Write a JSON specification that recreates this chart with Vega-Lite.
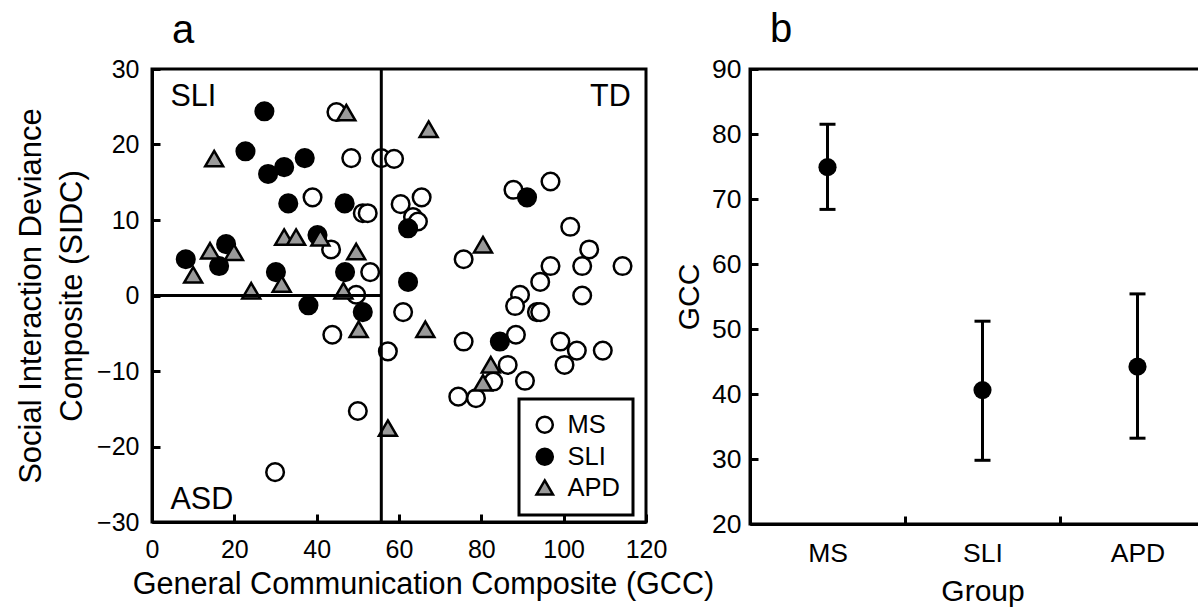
{
  "$schema": "https://vega.github.io/schema/vega-lite/v6.json",
  "background": "white",
  "padding": {"left": 14, "top": 8, "right": 0, "bottom": 0},
  "spacing": -43,
  "config": {
    "font": "Liberation Sans",
    "view": {"stroke": "black", "strokeWidth": 3},
    "axis": {
      "domainColor": "black", "domainWidth": 3, "tickColor": "black", "tickWidth": 3, "tickSize": -8,
      "labelColor": "black", "titleColor": "black", "titleFontWeight": "normal", "grid": false,
      "labelFont": "Liberation Sans", "titleFont": "Liberation Sans", "labelFlush": false, "labelOverlap": false
    },
    "legend": {
      "strokeColor": "black", "strokeWidth": 3, "padding": 13, "fillColor": "white",
      "symbolStrokeColor": "black", "symbolStrokeWidth": 2.5, "symbolSize": 260,
      "labelFontSize": 25.5, "labelColor": "black", "labelOffset": 10, "rowPadding": 4
    },
    "title": {"fontWeight": "normal", "color": "black", "font": "Liberation Sans"}
  },
  "hconcat": [
    {
      "width": 494,
      "height": 453,
      "title": {"text": "a", "anchor": "start", "fontSize": 40, "frame": "group", "dx": 20, "offset": 6},
      "layer": [
        {
          "data": {"values": [
            {"group": "MS", "gcc": 44.8, "sidc": 24.3},
            {"group": "MS", "gcc": 48.4, "sidc": 18.2},
            {"group": "MS", "gcc": 55.7, "sidc": 18.2},
            {"group": "MS", "gcc": 58.8, "sidc": 18.1},
            {"group": "MS", "gcc": 39.0, "sidc": 13.0},
            {"group": "MS", "gcc": 51.2, "sidc": 10.9},
            {"group": "MS", "gcc": 52.4, "sidc": 10.9},
            {"group": "MS", "gcc": 43.5, "sidc": 6.1},
            {"group": "MS", "gcc": 53.0, "sidc": 3.1},
            {"group": "MS", "gcc": 49.6, "sidc": 0.1},
            {"group": "MS", "gcc": 43.8, "sidc": -5.2},
            {"group": "MS", "gcc": 57.3, "sidc": -7.4},
            {"group": "MS", "gcc": 60.4, "sidc": 12.1},
            {"group": "MS", "gcc": 65.5, "sidc": 13.0},
            {"group": "MS", "gcc": 63.4, "sidc": 10.4},
            {"group": "MS", "gcc": 64.6, "sidc": 9.8},
            {"group": "MS", "gcc": 87.8, "sidc": 14.0},
            {"group": "MS", "gcc": 96.8, "sidc": 15.1},
            {"group": "MS", "gcc": 101.6, "sidc": 9.1},
            {"group": "MS", "gcc": 75.7, "sidc": 4.8},
            {"group": "MS", "gcc": 106.2, "sidc": 6.1},
            {"group": "MS", "gcc": 96.8, "sidc": 3.9},
            {"group": "MS", "gcc": 104.5, "sidc": 3.9},
            {"group": "MS", "gcc": 114.3, "sidc": 3.9},
            {"group": "MS", "gcc": 94.3, "sidc": 1.8},
            {"group": "MS", "gcc": 104.5, "sidc": 0.0},
            {"group": "MS", "gcc": 89.4, "sidc": 0.1},
            {"group": "MS", "gcc": 88.2, "sidc": -1.4},
            {"group": "MS", "gcc": 93.5, "sidc": -2.2},
            {"group": "MS", "gcc": 94.3, "sidc": -2.2},
            {"group": "MS", "gcc": 61.0, "sidc": -2.2},
            {"group": "MS", "gcc": 75.7, "sidc": -6.1},
            {"group": "MS", "gcc": 88.4, "sidc": -5.2},
            {"group": "MS", "gcc": 99.2, "sidc": -6.1},
            {"group": "MS", "gcc": 103.2, "sidc": -7.3},
            {"group": "MS", "gcc": 109.5, "sidc": -7.3},
            {"group": "MS", "gcc": 100.2, "sidc": -9.2},
            {"group": "MS", "gcc": 86.4, "sidc": -9.2},
            {"group": "MS", "gcc": 90.6, "sidc": -11.3},
            {"group": "MS", "gcc": 82.9, "sidc": -11.4},
            {"group": "MS", "gcc": 74.4, "sidc": -13.4},
            {"group": "MS", "gcc": 78.7, "sidc": -13.6},
            {"group": "MS", "gcc": 50.0, "sidc": -15.3},
            {"group": "MS", "gcc": 29.9, "sidc": -23.4},
            {"group": "SLI", "gcc": 27.3, "sidc": 24.4},
            {"group": "SLI", "gcc": 22.7, "sidc": 19.1},
            {"group": "SLI", "gcc": 28.2, "sidc": 16.1},
            {"group": "SLI", "gcc": 32.1, "sidc": 17.0},
            {"group": "SLI", "gcc": 37.1, "sidc": 18.2},
            {"group": "SLI", "gcc": 33.1, "sidc": 12.2},
            {"group": "SLI", "gcc": 46.8, "sidc": 12.2},
            {"group": "SLI", "gcc": 8.2, "sidc": 4.8},
            {"group": "SLI", "gcc": 18.0, "sidc": 6.8},
            {"group": "SLI", "gcc": 16.3, "sidc": 3.9},
            {"group": "SLI", "gcc": 40.2, "sidc": 8.0},
            {"group": "SLI", "gcc": 30.1, "sidc": 3.1},
            {"group": "SLI", "gcc": 46.9, "sidc": 3.1},
            {"group": "SLI", "gcc": 38.0, "sidc": -1.3},
            {"group": "SLI", "gcc": 51.2, "sidc": -2.2},
            {"group": "SLI", "gcc": 62.2, "sidc": 8.9},
            {"group": "SLI", "gcc": 62.2, "sidc": 1.8},
            {"group": "SLI", "gcc": 91.1, "sidc": 13.0},
            {"group": "SLI", "gcc": 84.5, "sidc": -6.1},
            {"group": "APD", "gcc": 47.2, "sidc": 24.2},
            {"group": "APD", "gcc": 15.1, "sidc": 18.1},
            {"group": "APD", "gcc": 10.0, "sidc": 2.7},
            {"group": "APD", "gcc": 14.1, "sidc": 5.9},
            {"group": "APD", "gcc": 19.9, "sidc": 5.7},
            {"group": "APD", "gcc": 24.1, "sidc": 0.6},
            {"group": "APD", "gcc": 32.1, "sidc": 7.7},
            {"group": "APD", "gcc": 35.0, "sidc": 7.7},
            {"group": "APD", "gcc": 40.9, "sidc": 7.6},
            {"group": "APD", "gcc": 49.6, "sidc": 5.8},
            {"group": "APD", "gcc": 31.5, "sidc": 1.5},
            {"group": "APD", "gcc": 46.5, "sidc": 0.6},
            {"group": "APD", "gcc": 50.2, "sidc": -4.5},
            {"group": "APD", "gcc": 67.2, "sidc": 22.0},
            {"group": "APD", "gcc": 80.4, "sidc": 6.7},
            {"group": "APD", "gcc": 66.4, "sidc": -4.5},
            {"group": "APD", "gcc": 82.3, "sidc": -9.2},
            {"group": "APD", "gcc": 80.4, "sidc": -11.6},
            {"group": "APD", "gcc": 57.3, "sidc": -17.6}
          ]},
          "mark": {"type": "point", "filled": true, "size": 310, "strokeWidth": 2.5, "opacity": 1},
          "encoding": {
            "x": {"field": "gcc", "type": "quantitative",
              "scale": {"domain": [0, 120], "nice": false, "zero": false},
              "axis": {"title": "General Communication Composite (GCC)", "values": [0, 20, 40, 60, 80, 100, 120],
                "labelFontSize": 25, "titleFontSize": 30.6, "labelPadding": 23, "titlePadding": 7, "titleX": 271, "labelFlush": false}},
            "y": {"field": "sidc", "type": "quantitative",
              "scale": {"domain": [-30, 30], "nice": false, "zero": false},
              "axis": {"title": ["Social Interaction Deviance", "Composite (SIDC)"], "values": [-30, -20, -10, 0, 10, 20, 30],
                "labelFontSize": 25, "titleFontSize": 31, "titleLineHeight": 41, "labelPadding": 21, "titlePadding": 8}},
            "fill": {"field": "group", "type": "nominal",
              "scale": {"domain": ["MS", "SLI", "APD"], "range": ["white", "black", "#9a9a9a"]},
              "legend": {"title": null, "orient": "none", "legendX": 367, "legendY": 330, "labelExpr": "datum.label + '  '"}},
            "stroke": {"field": "group", "type": "nominal",
              "scale": {"domain": ["MS", "SLI", "APD"], "range": ["black", "black", "black"]},
              "legend": {"title": null, "orient": "none", "legendX": 367, "legendY": 330, "labelExpr": "datum.label + '  '"}},
            "shape": {"field": "group", "type": "nominal",
              "scale": {"domain": ["MS", "SLI", "APD"], "range": ["circle", "circle", "M0,-0.9L1.02,0.85L-1.02,0.85Z"]},
              "legend": {"title": null, "orient": "none", "legendX": 367, "legendY": 330, "labelExpr": "datum.label + '  '"}}
          }
        },
        {
          "data": {"values": [{"gcc": 55.7, "sidc": -30, "sidc2": 30}]},
          "mark": {"type": "rule", "strokeWidth": 3, "color": "black"},
          "encoding": {
            "x": {"field": "gcc", "type": "quantitative"},
            "y": {"field": "sidc", "type": "quantitative"},
            "y2": {"field": "sidc2"}
          }
        },
        {
          "data": {"values": [{"gcc": 0, "gcc2": 55.7, "sidc": 0}]},
          "mark": {"type": "rule", "strokeWidth": 3, "color": "black"},
          "encoding": {
            "x": {"field": "gcc", "type": "quantitative"},
            "x2": {"field": "gcc2"},
            "y": {"field": "sidc", "type": "quantitative"}
          }
        },
        {
          "data": {"values": [
            {"label": "SLI", "gcc": 4.5, "sidc": 25.1, "side": "left"},
            {"label": "ASD", "gcc": 4.5, "sidc": -28.3, "side": "left"},
            {"label": "TD", "gcc": 116.3, "sidc": 25.1, "side": "right"}
          ]},
          "transform": [{"filter": "datum.side === 'left'"}],
          "mark": {"type": "text", "align": "left", "baseline": "alphabetic", "fontSize": 30.5, "color": "black"},
          "encoding": {
            "x": {"field": "gcc", "type": "quantitative"},
            "y": {"field": "sidc", "type": "quantitative"},
            "text": {"field": "label"}
          }
        },
        {
          "data": {"values": [
            {"label": "SLI", "gcc": 4.5, "sidc": 25.1, "side": "left"},
            {"label": "ASD", "gcc": 4.5, "sidc": -28.3, "side": "left"},
            {"label": "TD", "gcc": 116.3, "sidc": 25.1, "side": "right"}
          ]},
          "transform": [{"filter": "datum.side === 'right'"}],
          "mark": {"type": "text", "align": "right", "baseline": "alphabetic", "fontSize": 30.5, "color": "black"},
          "encoding": {
            "x": {"field": "gcc", "type": "quantitative"},
            "y": {"field": "sidc", "type": "quantitative"},
            "text": {"field": "label"}
          }
        }
      ]
    },
    {
      "width": 465,
      "height": 455,
      "title": {"text": "b", "anchor": "start", "fontSize": 40, "frame": "group", "dx": 20, "offset": 6},
      "data": {"values": [
        {"group": "MS", "mean": 74.9, "lo": 68.4, "hi": 81.5},
        {"group": "SLI", "mean": 40.6, "lo": 29.8, "hi": 51.2},
        {"group": "APD", "mean": 44.2, "lo": 33.2, "hi": 55.4}
      ]},
      "encoding": {
        "x": {"field": "group", "type": "nominal", "sort": ["MS", "SLI", "APD"],
          "scale": {"type": "band", "paddingInner": 0, "paddingOuter": 0},
          "axis": {"title": "Group", "labelAngle": 0, "tickBand": "extent", "labelFontSize": 26.5, "titleFontSize": 30, "labelPadding": 24, "titlePadding": 10}}
      },
      "layer": [
        {
          "mark": {"type": "rule", "strokeWidth": 3, "color": "black"},
          "encoding": {
            "y": {"field": "lo", "type": "quantitative",
              "scale": {"domain": [20, 90], "nice": false, "zero": false},
              "axis": {"title": "GCC", "values": [20, 30, 40, 50, 60, 70, 80, 90], "labelFontSize": 26.5, "titleFontSize": 30, "labelPadding": 17, "titlePadding": 7}},
            "y2": {"field": "hi"}
          }
        },
        {
          "mark": {"type": "tick", "size": 16, "thickness": 3, "color": "black", "opacity": 1},
          "encoding": {"y": {"field": "lo", "type": "quantitative"}}
        },
        {
          "mark": {"type": "tick", "size": 16, "thickness": 3, "color": "black", "opacity": 1},
          "encoding": {"y": {"field": "hi", "type": "quantitative"}}
        },
        {
          "mark": {"type": "point", "filled": true, "size": 330, "color": "black", "opacity": 1},
          "encoding": {"y": {"field": "mean", "type": "quantitative"}}
        }
      ]
    }
  ]
}
